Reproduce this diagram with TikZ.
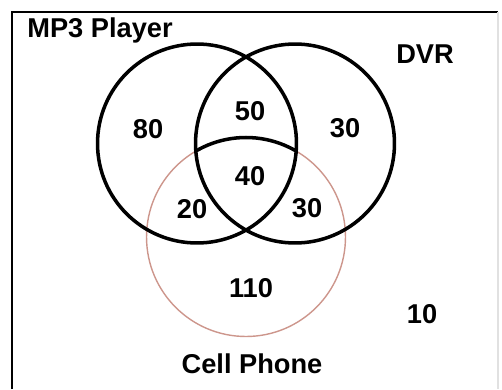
\documentclass[tikz,border=0pt]{standalone}
\usepackage{fontspec}
\setmainfont{Liberation Sans}
\usepackage{xcolor}
\usetikzlibrary{positioning}
\definecolor{phoneline}{RGB}{205,150,140}
\definecolor{frameright}{RGB}{225,225,225}

\begin{document}
\begin{tikzpicture}[
  x=0.02cm, y=-0.02cm,
  set/.style={circle, draw, line width=2pt, minimum size=3.98cm, inner sep=0pt},
  lbl/.style={anchor=base, font=\fontsize{15.5}{18}\selectfont\bfseries},
  num/.style={anchor=base, font=\fontsize{15.5}{18}\selectfont\bfseries}
]
\useasboundingbox (0,0) rectangle (502,389);
% frame
\draw[line width=1.6pt] (12,389) -- (12,12) -- (498,12);
\draw[frameright, line width=0.8pt] (498,12) -- (498,389);
% the three sets
\node[set, draw=phoneline, line width=0.8pt] (phone) at (246,237) {};
\node[set] (mp3) at (197,143.5) {};
\node[set] (dvr) at (295,143.5) {};
\begin{scope}
  \clip (mp3.center) circle (99.5);
  \clip (dvr.center) circle (99.5);
  \draw[line width=2pt] (phone.center) circle (99.5);
\end{scope}
% set names
\node[lbl] (mp3name) at (100,37) {MP3 Player};
\node[lbl] (dvrname) at (425,63) {DVR};
\node[lbl] (phonename) at (252,373) {Cell Phone};
% counts
\node[num] (only mp3) at (148,138) {80};
\node[num] (mp3 dvr) at (250,120) {50};
\node[num] (only dvr) at (345,137) {30};
\node[num] (all) at (250,185) {40};
\node[num] (mp3 phone) at (192,218) {20};
\node[num] (dvr phone) at (307,217) {30};
\node[num] (only phone) at (251,297) {110};
\node[num] (none) at (422,323) {10};
\end{tikzpicture}
\end{document}
